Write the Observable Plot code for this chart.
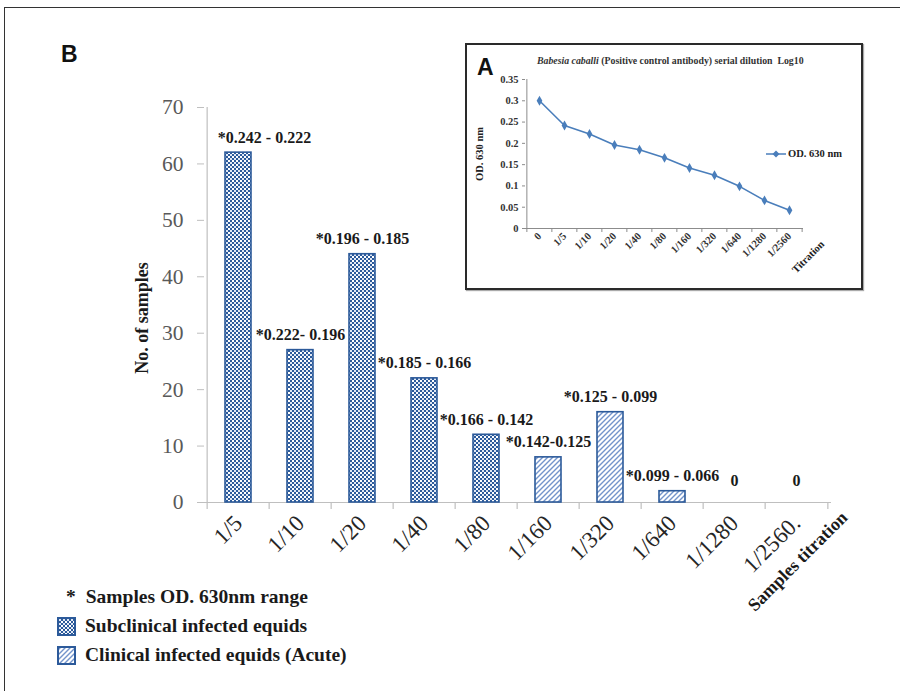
<!DOCTYPE html>
<html><head><meta charset="utf-8">
<script src="https://cdn.jsdelivr.net/npm/d3@7"></script>
<script src="https://cdn.jsdelivr.net/npm/@observablehq/plot@0.6"></script>
<style>
body{margin:0;background:#fff;}
#page{position:relative;width:900px;height:691px;overflow:hidden;background:#fff;font-family:"Liberation Serif","Times New Roman",serif;}
#frame{position:absolute;left:4px;top:7px;width:920px;height:700px;border-left:1.5px solid #333;border-top:1.5px solid #333;}
#main{position:absolute;left:0;top:0;}
#inset{position:absolute;left:465px;top:43px;width:394px;height:243px;border:2px solid #2a2a2a;background:#fff;box-shadow:1px 1px 1px #aaa;}
#insetPlot{position:absolute;left:0;top:0;}
#labelB{position:absolute;left:61px;top:41px;font:bold 23px "Liberation Sans Narrow","Liberation Sans",Arial,sans-serif;color:#111;}
#labelA{position:absolute;left:10px;top:9px;font:bold 23px "Liberation Sans","DejaVu Sans",sans-serif;color:#111;}
#insetTitle{position:absolute;left:70px;top:10px;font:bold 9.8px "Liberation Serif",serif;color:#333;white-space:nowrap;}
#insetLegend{position:absolute;left:299px;top:103px;font:bold 10.5px "Liberation Serif",serif;color:#222;white-space:nowrap;display:flex;align-items:center;gap:2px;}
.leg{position:absolute;left:57px;font:bold 19.5px "Liberation Serif",serif;color:#1a1a1a;white-space:nowrap;display:flex;align-items:center;}
.leg svg{margin-right:9px;}
</style></head>
<body>
<svg width="0" height="0" style="position:absolute">
<defs>
<pattern id="pSub" width="4" height="4" patternUnits="userSpaceOnUse">
<rect width="4" height="4" fill="#2c5a9a"/>
<rect x="0" y="0" width="2" height="2" fill="#ffffff"/>
<rect x="2" y="2" width="2" height="2" fill="#dfe7f4"/>
</pattern>
<pattern id="pCli" width="5" height="5" patternUnits="userSpaceOnUse">
<rect width="5" height="5" fill="#ffffff"/>
<path d="M-1,1 L1,-1 M0,5 L5,0 M4,6 L6,4" stroke="#7394cb" stroke-width="1.4"/>
</pattern>
</defs></svg>
<div id="page">
<div id="frame"></div>
<div id="main"></div>
<div id="labelB">B</div>
<div id="inset">
  <div id="insetPlot"></div>
  <div id="labelA">A</div>
  <div id="insetTitle"><i>Babesia caballi</i> (Positive control antibody) serial dilution&nbsp;&nbsp;Log10</div>
  <div id="insetLegend"><svg width="20" height="8"><line x1="0" y1="4" x2="20" y2="4" stroke="#4a7ebb" stroke-width="1.5"/><path d="M10,0.5 L13.5,4 L10,7.5 L6.5,4Z" fill="#4a7ebb"/></svg><span>OD. 630 nm</span></div>
</div>
<div class="leg" style="top:586px;left:66px;"><span style="margin-right:10px">*</span><span>Samples OD. 630nm range</span></div>
<div class="leg" style="top:615px;"><svg width="19" height="19"><rect x="1" y="1" width="17" height="17" fill="url(#pSub)" stroke="#2c5a9a" stroke-width="2"/></svg><span>Subclinical infected equids</span></div>
<div class="leg" style="top:644px;"><svg width="19" height="19"><rect x="1" y="1" width="17" height="17" fill="url(#pCli)" stroke="#2c5a9a" stroke-width="2"/></svg><span>Clinical infected equids (Acute)</span></div>
</div>
<script>
// ---- Main chart data (B) ----
const dilutions = ["1/5","1/10","1/20","1/40","1/80","1/160","1/320","1/640","1/1280","1/2560."];
const samples = [62, 27, 44, 22, 12, 8, 16, 2, 0, 0];
const odRanges = ["*0.242 - 0.222","*0.222- 0.196","*0.196 - 0.185","*0.185 - 0.166","*0.166 - 0.142","*0.142-0.125","*0.125 - 0.099","*0.099 - 0.066","0","0"];
const groups = ["Subclinical","Subclinical","Subclinical","Subclinical","Subclinical","Clinical","Clinical","Clinical","Clinical","Clinical"];
const yTicks = [0,10,20,30,40,50,60,70];

// ---- Inset data (A) ----
const insetTitrations = ["0","1/5","1/10","1/20","1/40","1/80","1/160","1/320","1/640","1/1280","1/2560"];
const insetOD = [0.300, 0.242, 0.222, 0.196, 0.185, 0.166, 0.142, 0.125, 0.099, 0.066, 0.043];
const insetYTicks = [0,0.05,0.10,0.15,0.20,0.25,0.30,0.35];

const data = dilutions.map((d,i)=>({dilution:d, count:samples[i], range:odRanges[i], group:groups[i]}));
const serif = "Liberation Serif, Times New Roman, serif";

const W = 900, ML = 204, MR = 69;
const step = (W - ML - MR) / dilutions.length;
const last = dilutions[dilutions.length-1];

const main = Plot.plot({
  width: W, height: 640,
  marginLeft: ML, marginRight: MR, marginTop: 107, marginBottom: 138,
  style: {fontFamily: serif, background: "transparent", overflow: "visible"},
  x: {domain: dilutions, paddingInner: 0.58, paddingOuter: 0.29, label: null},
  y: {domain: [0, 70], label: null},
  marks: [
    Plot.ruleX([dilutions[0]], {x: d => d, y1: 0, y2: 70, dx: -step/2, stroke: "#bfbfbf", strokeWidth: 1.2}),
    Plot.ruleY([0], {stroke: "#bfbfbf", strokeWidth: 1.2}),
    Plot.ruleX(dilutions, {x: d => d, y1: 0, y2: 0, insetBottom: -7, dx: -step/2, stroke: "#bfbfbf", strokeWidth: 1.2}),
    Plot.ruleX([last], {x: d => d, y1: 0, y2: 0, insetBottom: -7, dx: step/2, stroke: "#bfbfbf", strokeWidth: 1.2}),
    Plot.axisY({ticks: yTicks, tickSize: 7, tickPadding: 14, fontSize: 21.5, color: "#595959", stroke: "#bfbfbf", label: null}),
    Plot.axisX({tickRotate: -45, tickSize: 0, tickPadding: 17, fontSize: 23, color: "#262626", label: null}),
    Plot.barY(data.filter(d => d.count > 0 && d.group === "Subclinical"), {x: "dilution", y: "count", fill: "url(#pSub)", stroke: "#2c5a9a", strokeWidth: 1.6}),
    Plot.barY(data.filter(d => d.count > 0 && d.group === "Clinical"), {x: "dilution", y: "count", fill: "url(#pCli)", stroke: "#2c5a9a", strokeWidth: 1.6}),
    Plot.text(data.slice(0,1), {x: "dilution", y: "count", text: "range", dx: 26, dy: -15, fontSize: 16, fontWeight: "bold", fill: "#1a1a1a"}),
    Plot.text(data.slice(1).filter(d => d.count > 0), {x: "dilution", y: "count", text: "range", dy: -15, fontSize: 16, fontWeight: "bold", fill: "#1a1a1a"}),
    Plot.text(data.filter(d => d.count === 0), {x: "dilution", y: "count", text: "range", dy: -22, fontSize: 16, fontWeight: "bold", fill: "#1a1a1a"}),
    Plot.text(["No. of samples"], {frameAnchor: "left", textAnchor: "middle", rotate: -90, dx: -62, dy: 13, fontSize: 18, fontWeight: "bold", fill: "#1a1a1a"}),
    Plot.text(["Samples titration"], {frameAnchor: "bottom-right", textAnchor: "end", lineAnchor: "middle", rotate: -45, dx: 13, dy: 12, fontSize: 18, fontWeight: "bold", fill: "#1a1a1a"})
  ]
});
document.getElementById("main").appendChild(main);

// ---- Inset ----
const IW = 394, IML = 58, IMR = 58;
const istep = (IW - IML - IMR) / insetTitrations.length;
const ilast = insetTitrations[insetTitrations.length-1];
const insetData = insetTitrations.map((t,i)=>({t, od: insetOD[i]}));
const inset = Plot.plot({
  width: IW, height: 243,
  marginLeft: IML, marginRight: IMR, marginTop: 34, marginBottom: 60,
  style: {fontFamily: serif, background: "transparent", overflow: "visible"},
  x: {type: "point", domain: insetTitrations, padding: 0.5, label: null},
  y: {domain: [0, 0.35], label: null},
  marks: [
    Plot.ruleX([insetTitrations[0]], {x: d => d, y1: 0, y2: 0.35, dx: -istep/2, stroke: "#8c8c8c"}),
    Plot.ruleY([0], {stroke: "#8c8c8c"}),
    Plot.ruleX(insetTitrations, {x: d => d, y1: 0, y2: 0, insetBottom: -4, dx: -istep/2, stroke: "#8c8c8c"}),
    Plot.ruleX([ilast], {x: d => d, y1: 0, y2: 0, insetBottom: -4, dx: istep/2, stroke: "#8c8c8c"}),
    Plot.axisY({ticks: insetYTicks, tickFormat: d => String(+d.toFixed(2)), tickSize: 3, tickPadding: 4, fontSize: 10.5, fontWeight: "bold", color: "#333", stroke: "#8c8c8c", label: null}),
    Plot.axisX({tickRotate: -45, tickSize: 0, tickPadding: 6, fontSize: 10.5, fontWeight: "bold", color: "#333", label: null}),
    Plot.line(insetData, {x: "t", y: "od", stroke: "#4a7ebb", strokeWidth: 1.6}),
    Plot.dot(insetData, {x: "t", y: "od", symbol: "diamond", r: 3, fill: "#4a7ebb"}),
    Plot.text(["OD. 630 nm"], {frameAnchor: "left", textAnchor: "middle", rotate: -90, dx: -46, fontSize: 10.5, fontWeight: "bold", fill: "#222"}),
    Plot.text(["Titration"], {frameAnchor: "bottom-right", textAnchor: "end", lineAnchor: "middle", rotate: -45, dx: 19, dy: 14, fontSize: 10.5, fontWeight: "bold", fill: "#222"})
  ]
});
document.getElementById("insetPlot").appendChild(inset);
</script>
</body></html>
